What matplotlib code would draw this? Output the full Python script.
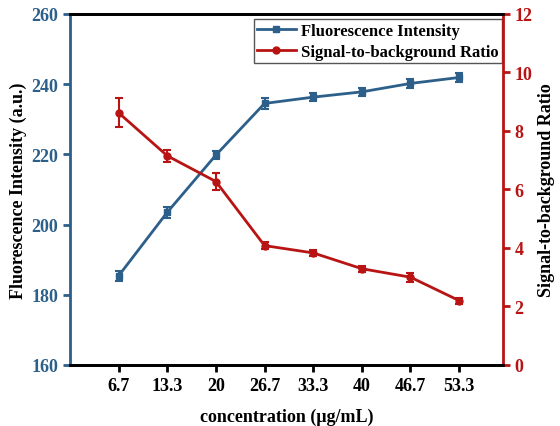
import matplotlib.pyplot as plt
from matplotlib.lines import Line2D
import numpy as np

concentrations = ['6.7', '13.3', '20', '26.7', '33.3', '40', '46.7', '53.3']
fluorescence = [185.4, 203.5, 219.8, 234.5, 236.3, 237.8, 240.2, 241.9]
fluorescence_err = [1.5, 1.6, 1.2, 1.6, 1.2, 1.2, 1.4, 1.3]
sbr = [8.62, 7.15, 6.27, 4.08, 3.83, 3.29, 3.0, 2.2]
sbr_err = [0.5, 0.2, 0.3, 0.12, 0.1, 0.1, 0.15, 0.1]

blue = '#2c5f8a'
red = '#b81414'

plt.rcParams['font.family'] = ['Liberation Serif', 'DejaVu Serif']
plt.rcParams['font.weight'] = 'bold'

fig = plt.figure(figsize=(5.6, 4.27), dpi=100)
ax = fig.add_axes([0.125, 0.143, 0.773, 0.822])
ax2 = ax.twinx()

x = np.arange(len(concentrations))
ax.errorbar(x, fluorescence, yerr=fluorescence_err, color=blue, marker='s',
            markersize=5, linewidth=2, capsize=3, elinewidth=1.5, capthick=1.5)
ax2.errorbar(x, sbr, yerr=sbr_err, color=red, marker='o',
             markersize=5, linewidth=2, capsize=3, elinewidth=1.5, capthick=1.5)

ax.set_xlim(-1, 7.9)
ax.set_ylim(160, 260)
ax.set_yticks(np.arange(160, 261, 20))
ax2.set_ylim(0, 12)
ax2.set_yticks(np.arange(0, 13, 2))
ax.set_xticks(x)
ax.set_xticklabels(concentrations)

for a in (ax, ax2):
    for s in a.spines.values():
        s.set_linewidth(2)
ax.spines['left'].set_color(blue)
ax2.spines['left'].set_visible(False)
ax2.spines['right'].set_color(red)
ax.spines['right'].set_visible(False)

ax.tick_params(axis='y', colors=blue, labelsize=13, width=2, length=5)
ax.tick_params(axis='x', labelsize=13, width=2, length=5)
ax2.tick_params(axis='y', colors=red, labelsize=13, width=2, length=5)

ax.set_xlabel('concentration (μg/mL)', fontsize=13, fontweight='bold', labelpad=10)
ax.set_ylabel('Fluorescence Intensity (a.u.)', fontsize=13, fontweight='bold', labelpad=3)
ax2.set_ylabel('Signal-to-background Ratio', fontsize=13, fontweight='bold', labelpad=4)

handles = [Line2D([], [], color=blue, marker='s', markersize=5, linewidth=2),
           Line2D([], [], color=red, marker='o', markersize=5, linewidth=2)]
leg = ax.legend(handles, ['Fluorescence Intensity', 'Signal-to-background Ratio'],
                loc='upper right', bbox_to_anchor=(0.997, 0.985), fontsize=12,
                fancybox=False, framealpha=1, edgecolor='#555555', borderpad=0.2,
                labelspacing=0.3, handlelength=2.3, handletextpad=0.3,
                borderaxespad=0)
leg.get_frame().set_linewidth(1)

fig.savefig('out.png', dpi=100)
